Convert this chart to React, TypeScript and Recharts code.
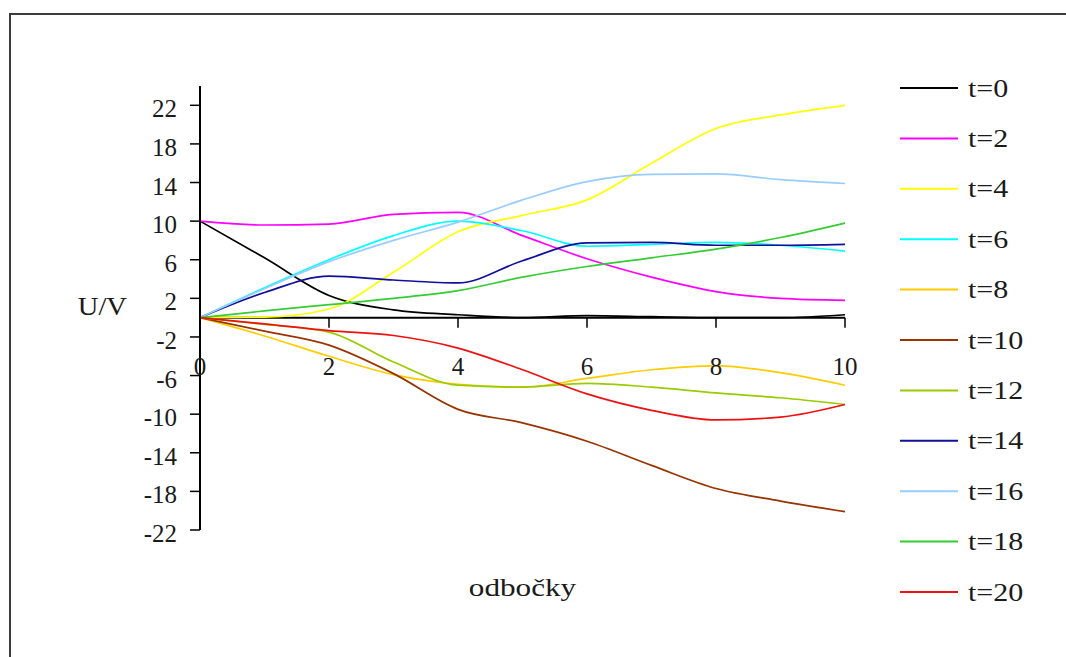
import React from 'react';
import { LineChart, Line, XAxis, YAxis, ReferenceLine } from 'recharts';

// Branch index along the line
const branches = [0, 1, 2, 3, 4, 5, 6, 7, 8, 9, 10];

// Voltage U/V at each branch, one array per time step
const t0 = [10, 6.2, 2.3, 0.8, 0.3, 0, 0.2, 0.1, 0, 0, 0.3];
const t2 = [10, 9.6, 9.7, 10.7, 10.9, 8.5, 6.1, 4.2, 2.7, 2.0, 1.8];
const t4 = [0, 0.05, 0.9, 4.7, 8.9, 10.6, 12.2, 16, 19.6, 21, 22];
const t6 = [0, 3.1, 6.0, 8.5, 10.0, 9.0, 7.4, 7.6, 7.8, 7.5, 6.9];
const t8 = [0, -1.9, -4.0, -5.9, -6.9, -7.2, -6.3, -5.4, -5.0, -5.7, -7.0];
const t10 = [0, -1.4, -2.85, -5.8, -9.5, -10.9, -12.8, -15.3, -17.7, -19.0, -20.1];
const t12 = [0, -0.7, -1.5, -4.6, -7.0, -7.2, -6.8, -7.2, -7.8, -8.3, -9.0];
const t14 = [0, 2.6, 4.3, 3.9, 3.6, 5.9, 7.75, 7.8, 7.5, 7.5, 7.6];
const t16 = [0, 3.0, 5.8, 8.0, 9.9, 12.2, 14.1, 14.85, 14.9, 14.3, 13.9];
const t18 = [0, 0.7, 1.35, 2.0, 2.8, 4.2, 5.3, 6.2, 7.1, 8.3, 9.8];
const t20 = [0, -0.65, -1.35, -1.85, -3.15, -5.4, -7.9, -9.6, -10.6, -10.3, -9.0];

const seriesNames = ['t=0', 't=2', 't=4', 't=6', 't=8', 't=10', 't=12', 't=14', 't=16', 't=18', 't=20'];
const seriesValues = [t0, t2, t4, t6, t8, t10, t12, t14, t16, t18, t20];
const seriesColors = [
  '#000000', '#ff00ff', '#ffff00', '#00ffff', '#ffcc00', '#993300',
  '#99cc00', '#10109a', '#99ccff', '#33cc33', '#ee1111',
];

const yTicks = [-22, -18, -14, -10, -6, -2, 2, 6, 10, 14, 18, 22];
const xTicks = [0, 2, 4, 6, 8, 10];

const data = branches.map((b, i) => {
  const row: Record<string, number> = { x: b };
  seriesNames.forEach((n, s) => {
    row[n] = seriesValues[s][i];
  });
  return row;
});

const FONT = '"Liberation Serif", "Times New Roman", serif';
const INK = '#1a1a1a';

const YTick = (props: any) => {
  const { x, y, payload } = props;
  return (
    <text x={x} y={y} dy={12} textAnchor="end" fontSize={25} fontFamily={FONT} fill={INK}>
      {payload.value}
    </text>
  );
};

export default function App() {
  return (
    <div style={{ position: 'relative', width: 1066, height: 657, overflow: 'hidden', background: '#fff' }}>
      <style>{'body{margin:0;}'}</style>
      {/* outer frame: top and left edges */}
      <div style={{ position: 'absolute', left: 9, top: 13, width: 1057, height: 2, background: '#3c3c3c' }} />
      <div style={{ position: 'absolute', left: 9, top: 13, width: 2, height: 644, background: '#3c3c3c' }} />
      <div style={{ position: 'absolute', left: 0, top: 0 }}>
        <LineChart
          width={1066}
          height={657}
          data={data}
          margin={{ top: 86, right: 221, bottom: 127, left: 140 }}
        >
          <XAxis dataKey="x" type="number" domain={[0, 10]} hide />
          <YAxis
            type="number"
            domain={[-22, 24]}
            ticks={yTicks}
            width={60}
            tickSize={10}
            tickMargin={13}
            tick={<YTick />}
            axisLine={{ stroke: '#000', strokeWidth: 2 }}
            tickLine={{ stroke: '#000', strokeWidth: 1.5 }}
            interval={0}
          />
          <ReferenceLine y={0} stroke="#000" strokeWidth={2} />
          {xTicks.map((v) => (
            <ReferenceLine
              key={'xt' + v}
              segment={[{ x: v, y: 0 }, { x: v, y: -1.04 }]}
              stroke="#000"
              strokeWidth={1.5}
              label={{
                value: String(v),
                position: 'bottom',
                offset: 30,
                fontSize: 25,
                fontFamily: FONT,
                fill: INK,
              }}
            />
          ))}
          {seriesNames.map((n, s) => (
            <Line
              key={n}
              type="monotone"
              dataKey={n}
              stroke={seriesColors[s]}
              strokeWidth={1.7}
              dot={false}
              isAnimationActive={false}
            />
          ))}
        </LineChart>
      </div>
      <svg
        width={1066}
        height={657}
        style={{ position: 'absolute', left: 0, top: 0, pointerEvents: 'none' }}
      >
        <text
          transform="translate(127,315) scale(1.1,1)"
          textAnchor="end"
          fontSize={26}
          fontFamily={FONT}
          fill={INK}
        >
          U/V
        </text>
        <text
          transform="translate(522.5,596) scale(1.2,1)"
          textAnchor="middle"
          fontSize={26}
          fontFamily={FONT}
          fill={INK}
        >
          odbočky
        </text>
        {seriesNames.map((n, s) => {
          const cy = 88 + s * 50.4;
          return (
            <g key={'lg' + n}>
              <line x1={900} x2={958} y1={cy} y2={cy} stroke={seriesColors[s]} strokeWidth={2} />
              <text
                transform={`translate(968,${cy + 8.5}) scale(1.2,1)`}
                fontSize={25}
                fontFamily={FONT}
                fill={INK}
              >
                {n}
              </text>
            </g>
          );
        })}
      </svg>
    </div>
  );
}
